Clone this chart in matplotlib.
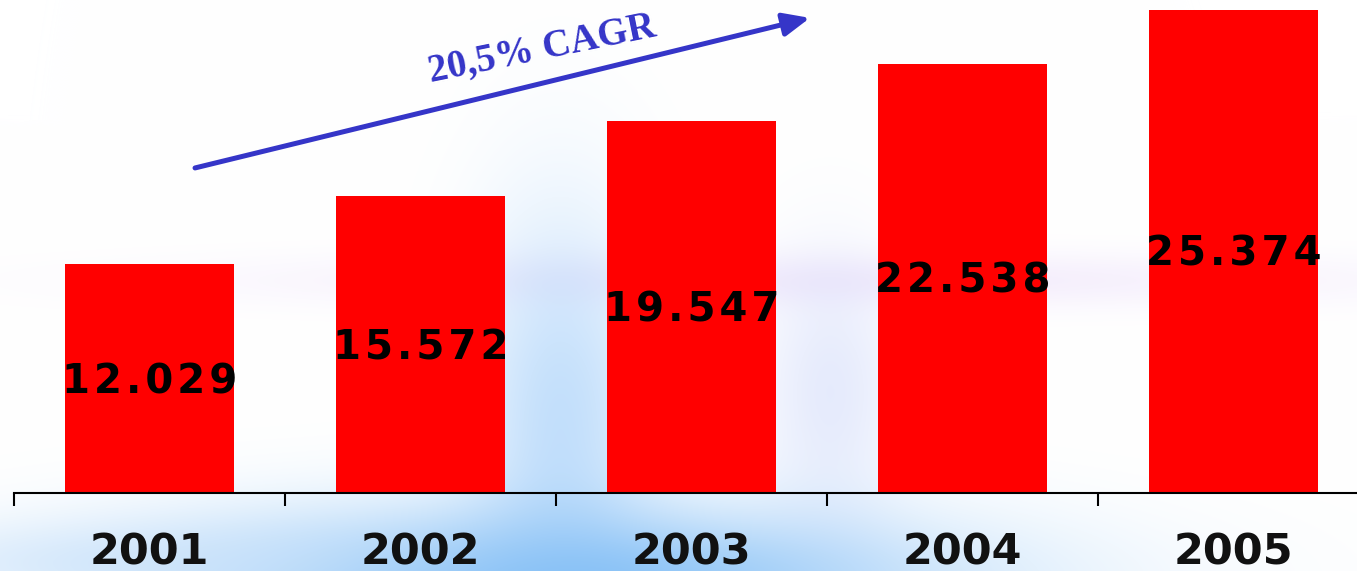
import numpy as np
import matplotlib.pyplot as plt

# data
years = ['2001', '2002', '2003', '2004', '2005']
values = [12029, 15572, 19547, 22538, 25374]
value_labels = ['12.029', '15.572', '19.547', '22.538', '25.374']
cagr_text = '20,5% CAGR'

W, H = 1357, 571
fig = plt.figure(figsize=(W / 100, H / 100), dpi=100)

# soft blue background (decoration only)
yy, xx = np.mgrid[0:H, 0:W].astype(float)
img = np.ones((H, W, 3))


def blob(cx, cy, sx, sy, color, strength):
    a = strength * np.exp(-((xx - cx) / sx) ** 2 - ((yy - cy) / sy) ** 2)
    c = np.array(color) / 255.0
    for k in range(3):
        img[:, :, k] = img[:, :, k] * (1 - a) + c[k] * a


blob(820, 280, 560, 28, (235, 222, 250), 0.55)
blob(560, 420, 90, 200, (170, 210, 250), 0.7)
blob(830, 390, 70, 130, (205, 215, 250), 0.5)
blob(560, 580, 400, 75, (120, 185, 245), 0.85)
blob(150, 560, 260, 40, (200, 225, 250), 0.6)

bg = fig.add_axes([0, 0, 1, 1], zorder=0)
bg.imshow(img, aspect='auto', interpolation='bilinear')
bg.axis('off')

ax = fig.add_axes([14 / W, (H - 493) / H, 1355 / W, 493 / H], zorder=1)
ax.patch.set_alpha(0)

x = np.arange(len(years))
ax.bar(x, values, width=0.624, color='#ff0000', zorder=2)
ax.set_xlim(-0.5, 4.5)
ax.set_ylim(0, 25890)

for s in ['top', 'right', 'left']:
    ax.spines[s].set_visible(False)
ax.spines['bottom'].set_linewidth(1.5)
ax.set_yticks([])
ax.set_xticks(np.arange(-0.5, 4.0, 1.0))
ax.set_xticklabels([])
ax.tick_params(axis='x', direction='out', length=9, width=1.5)

for i, v in enumerate(values):
    spaced = '\u200a'.join(value_labels[i])
    ax.annotate(spaced, (i, v / 2), xytext=(0, -10.5), textcoords='offset points',
                ha='center', va='baseline', fontsize=29, fontweight='bold',
                family='DejaVu Sans', color='black', zorder=3)
    ax.text(i, -0.146, years[i], transform=ax.get_xaxis_transform(), ha='center',
            va='baseline', fontsize=31, fontweight='bold', family='DejaVu Sans',
            color='#111111')

# growth arrow
ax.annotate('', xy=(2.437, 24950), xytext=(0.168, 17070),
            arrowprops=dict(arrowstyle='-|>,head_length=1.6,head_width=0.7',
                            color='#3535c8', lw=3.6, shrinkA=0, shrinkB=0))
ax.text(1.448, 23300, cagr_text, rotation=11.5, rotation_mode='anchor',
        ha='center', va='center', fontsize=28, fontweight='bold',
        family='Liberation Serif', color='#3535c8')

fig.savefig('out.png', dpi=100)
